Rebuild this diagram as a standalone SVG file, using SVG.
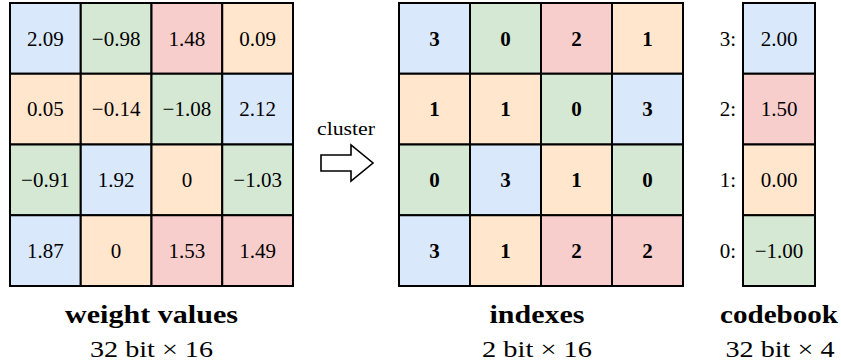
<svg xmlns="http://www.w3.org/2000/svg" width="841" height="364" viewBox="0 0 841 364">
<defs>
<style>
.c{stroke:#000;stroke-width:2}
.B{fill:#dae8fc}.G{fill:#d5e8d4}.R{fill:#f8cecc}.O{fill:#ffe6cc}
text{font-family:"Liberation Serif","DejaVu Serif",serif;fill:#000}
.v{font-size:21px;text-anchor:middle}
.i{font-size:21px;text-anchor:middle;font-weight:bold}
.k{font-size:21px;text-anchor:end}
.t{font-size:25px;text-anchor:middle;font-weight:bold}
.s{font-size:23px;text-anchor:middle}
</style>
</defs>
<rect width="841" height="364" fill="#fff"/>
<g id="weights">
<g id="w00"><rect class="c B" x="10" y="3" width="70.75" height="70.75"/><text class="v" x="45.4" y="45.6">2.09</text></g>
<g id="w01"><rect class="c G" x="80.75" y="3" width="70.75" height="70.75"/><text class="v" x="116.1" y="45.6">−0.98</text></g>
<g id="w02"><rect class="c R" x="151.5" y="3" width="70.75" height="70.75"/><text class="v" x="186.9" y="45.6">1.48</text></g>
<g id="w03"><rect class="c O" x="222.25" y="3" width="70.75" height="70.75"/><text class="v" x="257.6" y="45.6">0.09</text></g>
<g id="w10"><rect class="c O" x="10" y="73.75" width="70.75" height="70.75"/><text class="v" x="45.4" y="116.3">0.05</text></g>
<g id="w11"><rect class="c O" x="80.75" y="73.75" width="70.75" height="70.75"/><text class="v" x="116.1" y="116.3">−0.14</text></g>
<g id="w12"><rect class="c G" x="151.5" y="73.75" width="70.75" height="70.75"/><text class="v" x="186.9" y="116.3">−1.08</text></g>
<g id="w13"><rect class="c B" x="222.25" y="73.75" width="70.75" height="70.75"/><text class="v" x="257.6" y="116.3">2.12</text></g>
<g id="w20"><rect class="c G" x="10" y="144.5" width="70.75" height="70.75"/><text class="v" x="45.4" y="187.1">−0.91</text></g>
<g id="w21"><rect class="c B" x="80.75" y="144.5" width="70.75" height="70.75"/><text class="v" x="116.1" y="187.1">1.92</text></g>
<g id="w22"><rect class="c O" x="151.5" y="144.5" width="70.75" height="70.75"/><text class="v" x="186.9" y="187.1">0</text></g>
<g id="w23"><rect class="c G" x="222.25" y="144.5" width="70.75" height="70.75"/><text class="v" x="257.6" y="187.1">−1.03</text></g>
<g id="w30"><rect class="c B" x="10" y="215.25" width="70.75" height="70.75"/><text class="v" x="45.4" y="257.8">1.87</text></g>
<g id="w31"><rect class="c O" x="80.75" y="215.25" width="70.75" height="70.75"/><text class="v" x="116.1" y="257.8">0</text></g>
<g id="w32"><rect class="c R" x="151.5" y="215.25" width="70.75" height="70.75"/><text class="v" x="186.9" y="257.8">1.53</text></g>
<g id="w33"><rect class="c R" x="222.25" y="215.25" width="70.75" height="70.75"/><text class="v" x="257.6" y="257.8">1.49</text></g>
</g>
<g id="indexes">
<g id="i00"><rect class="c B" x="399" y="3" width="71" height="70.75"/><text class="i" x="434.5" y="45.6">3</text></g>
<g id="i01"><rect class="c G" x="470" y="3" width="71" height="70.75"/><text class="i" x="505.5" y="45.6">0</text></g>
<g id="i02"><rect class="c R" x="541" y="3" width="71" height="70.75"/><text class="i" x="576.5" y="45.6">2</text></g>
<g id="i03"><rect class="c O" x="612" y="3" width="71" height="70.75"/><text class="i" x="647.5" y="45.6">1</text></g>
<g id="i10"><rect class="c O" x="399" y="73.75" width="71" height="70.75"/><text class="i" x="434.5" y="116.3">1</text></g>
<g id="i11"><rect class="c O" x="470" y="73.75" width="71" height="70.75"/><text class="i" x="505.5" y="116.3">1</text></g>
<g id="i12"><rect class="c G" x="541" y="73.75" width="71" height="70.75"/><text class="i" x="576.5" y="116.3">0</text></g>
<g id="i13"><rect class="c B" x="612" y="73.75" width="71" height="70.75"/><text class="i" x="647.5" y="116.3">3</text></g>
<g id="i20"><rect class="c G" x="399" y="144.5" width="71" height="70.75"/><text class="i" x="434.5" y="187.1">0</text></g>
<g id="i21"><rect class="c B" x="470" y="144.5" width="71" height="70.75"/><text class="i" x="505.5" y="187.1">3</text></g>
<g id="i22"><rect class="c O" x="541" y="144.5" width="71" height="70.75"/><text class="i" x="576.5" y="187.1">1</text></g>
<g id="i23"><rect class="c G" x="612" y="144.5" width="71" height="70.75"/><text class="i" x="647.5" y="187.1">0</text></g>
<g id="i30"><rect class="c B" x="399" y="215.25" width="71" height="70.75"/><text class="i" x="434.5" y="257.8">3</text></g>
<g id="i31"><rect class="c O" x="470" y="215.25" width="71" height="70.75"/><text class="i" x="505.5" y="257.8">1</text></g>
<g id="i32"><rect class="c R" x="541" y="215.25" width="71" height="70.75"/><text class="i" x="576.5" y="257.8">2</text></g>
<g id="i33"><rect class="c R" x="612" y="215.25" width="71" height="70.75"/><text class="i" x="647.5" y="257.8">2</text></g>
</g>
<g id="codebook">
<g id="cb3"><rect class="c B" x="743" y="3" width="72" height="70.75"/><text class="v" x="779" y="45.6">2.00</text><text class="k" x="736" y="45.6">3:</text></g>
<g id="cb2"><rect class="c R" x="743" y="73.75" width="72" height="70.75"/><text class="v" x="779" y="116.3">1.50</text><text class="k" x="736" y="116.3">2:</text></g>
<g id="cb1"><rect class="c O" x="743" y="144.5" width="72" height="70.75"/><text class="v" x="779" y="187.1">0.00</text><text class="k" x="736" y="187.1">1:</text></g>
<g id="cb0"><rect class="c G" x="743" y="215.25" width="72" height="70.75"/><text class="v" x="779" y="257.8">−1.00</text><text class="k" x="736" y="257.8">0:</text></g>
</g>
<g id="connectors">
<polygon points="321,155 351,155 351,145 373,163 351,181 351,171 321,171" fill="#fff" stroke="#000" stroke-width="1.6" stroke-linejoin="miter"/>
<text x="346" y="135" style="font-size:18px;text-anchor:middle" textLength="58" lengthAdjust="spacingAndGlyphs">cluster</text>
</g>
<g id="labels">
<text class="t" x="151.5" y="323" textLength="173" lengthAdjust="spacingAndGlyphs">weight values</text>
<text class="s" x="151.5" y="357" textLength="123" lengthAdjust="spacingAndGlyphs">32 bit × 16</text>
<text class="t" x="537" y="323" textLength="95" lengthAdjust="spacingAndGlyphs">indexes</text>
<text class="s" x="537" y="357" textLength="110" lengthAdjust="spacingAndGlyphs">2 bit × 16</text>
<text class="t" x="779" y="323" textLength="118" lengthAdjust="spacingAndGlyphs">codebook</text>
<text class="s" x="780" y="357" textLength="109" lengthAdjust="spacingAndGlyphs">32 bit × 4</text>
</g>
</svg>
